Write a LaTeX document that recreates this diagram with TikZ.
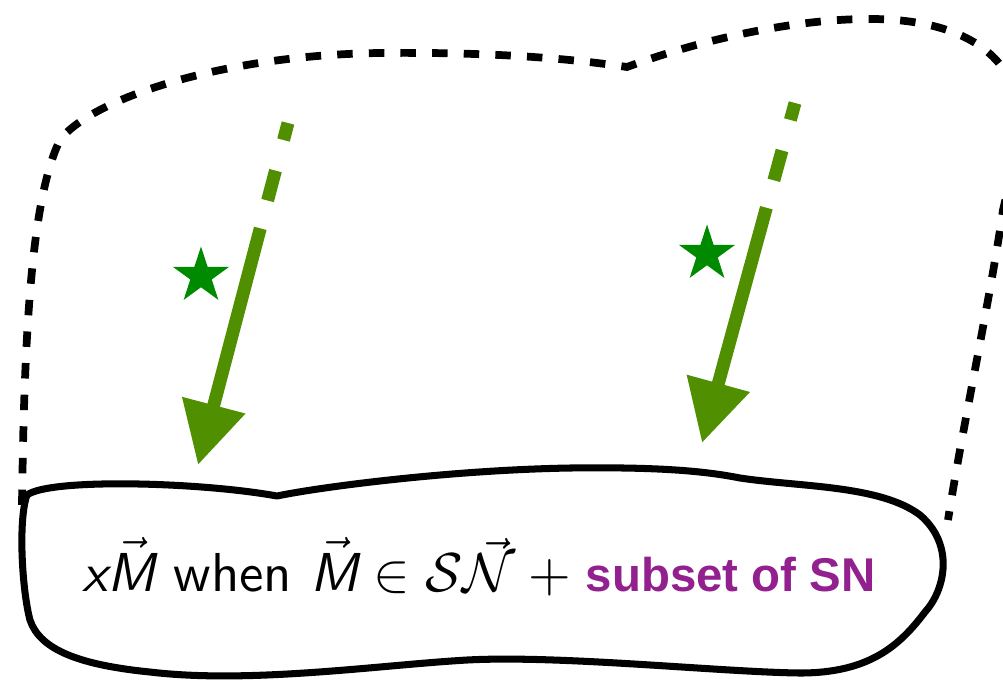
\documentclass[tikz,border=0pt]{standalone}
\usepackage{graphicx}
\usepackage{fontspec}
\usetikzlibrary{arrows.meta,shapes.geometric,calc}
\newfontfamily\hvbold{Liberation Sans Bold}
\definecolor{arrowgreen}{RGB}{80,143,0}
\definecolor{stargreen}{RGB}{0,138,0}
\definecolor{subsetpurple}{RGB}{146,32,142}
\newcommand\sfit[1]{\mbox{\sffamily\itshape #1}}
\tikzset{
  outline/.style={draw=black, line width=5.5pt, dash pattern=on 11pt off 11.5pt},
  blob/.style={draw=black, line width=5pt, line join=round},
  tailpart/.style={draw=arrowgreen, line width=9.2pt, dash pattern=on 12.5pt off 22.5pt on 22pt off 30pt},
  shaft/.style={draw=arrowgreen, line width=9.2pt, -{Triangle[length=44pt,width=44pt]}},
  starmark/.style={star, star points=5, star point ratio=2.618, fill=stargreen, draw=none, minimum size=42pt, inner sep=0pt},
  label/.style={anchor=base west, inner sep=0pt}
}
\begin{document}
\begin{tikzpicture}[x=0.025cm, y=-0.025cm]
\useasboundingbox (0,0) rectangle (1003,679);
\clip (0,0) rectangle (1003,679);

% dashed outer outline
\path[outline] (22,505) .. controls (24,350) and (30,200) .. (60,140)
  .. controls (90,100) and (220,55) .. (380,53)
  .. controls (480,52) and (560,57) .. (627,67)
  .. controls (700,40) and (790,20) .. (864,19)
  .. controls (940,18) and (990,40) .. (1010,80)
  .. controls (1030,120) and (1012,170) .. (1003,210)
  .. controls (990,300) and (962,430) .. (948,520);

% solid blob
\path[blob] (27,495) .. controls (50,478) and (200,482) .. (277,496)
  .. controls (320,487) and (450,470) .. (570,468)
  .. controls (650,467) and (700,470) .. (740,478)
  .. controls (800,487) and (880,485) .. (920,515)
  .. controls (955,545) and (945,590) .. (925,612)
  .. controls (900,645) and (870,673) .. (800,673)
  .. controls (720,672) and (560,655) .. (467,660)
  .. controls (380,665) and (250,684) .. (150,672)
  .. controls (80,665) and (40,650) .. (30,620)
  .. controls (22,590) and (18,520) .. (27,495) -- cycle;

% arrows
\coordinate (L0) at (288,123);
\coordinate (L1) at (198,465);
\coordinate (R0) at (795,103);
\coordinate (R1) at (702,443);
\path[tailpart] (L0) -- ($(L0)!0.31!(L1)$);
\path[shaft] ($(L0)!0.308!(L1)$) -- (L1);
\path[tailpart] (R0) -- ($(R0)!0.31!(R1)$);
\path[shaft] ($(R0)!0.308!(R1)$) -- (R1);

% stars
\node[starmark] (starL) at (201,276) {};
\node[starmark] (starR) at (707,254) {};

% label
\node[label] (txt) at (82,591) {\scalebox{3.9}{\fontsize{10}{12}\selectfont
  $\sfit{x}\vec{\sfit{M}}$ \sffamily when $\vec{\sfit{M}}\in\mathcal{S}\vec{\mathcal{N}}+{}$}\hspace{2pt}%
  \textcolor{subsetpurple}{\fontsize{33.7}{40}\selectfont\hvbold subset of SN}};
\end{tikzpicture}
\end{document}
